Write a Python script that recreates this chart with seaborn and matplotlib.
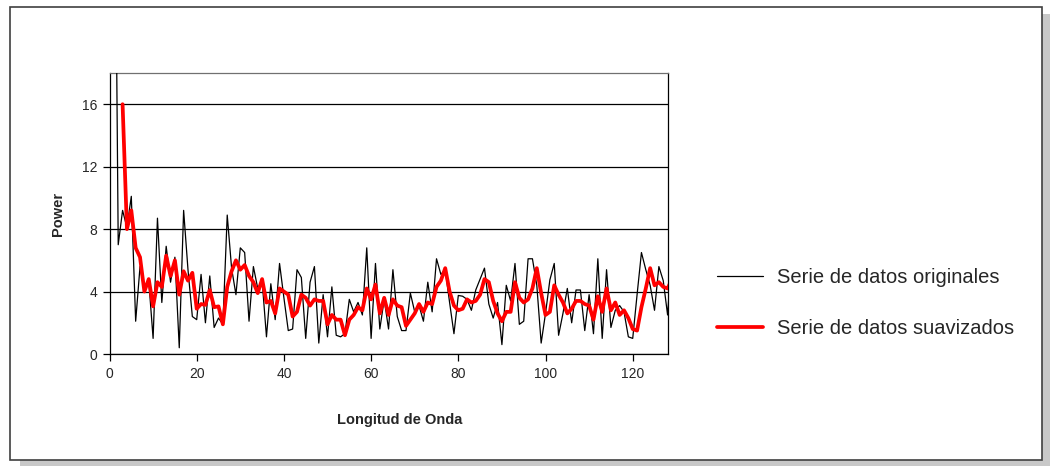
import pandas as pd
import seaborn as sns
import matplotlib
matplotlib.use("Agg")
import matplotlib.pyplot as plt
from matplotlib.patches import Rectangle

# Wavelength index and spectral power of the raw series
wavelength_orig = list(range(1, 130))
power_orig = [
    40.0, 7.0, 9.2, 8.1, 10.1, 2.1, 5.6, 4.0, 4.7, 1.0,
    8.7, 3.3, 6.9, 4.6, 6.2, 0.4, 9.2, 5.4, 2.4, 2.2,
    5.1, 2.0, 5.0, 1.7, 2.3, 1.9, 8.9, 5.5, 3.8, 6.8,
    6.5, 2.1, 5.6, 4.2, 4.7, 1.1, 4.5, 2.2, 5.8, 3.6,
    1.5, 1.6, 5.4, 4.9, 1.0, 4.6, 5.6, 0.7, 3.8, 1.1,
    4.3, 1.2, 1.1, 1.3, 3.5, 2.7, 3.3, 2.5, 6.8, 1.0,
    5.8, 1.6, 3.5, 1.6, 5.4, 2.4, 1.5, 1.5, 3.9, 2.7,
    3.1, 2.1, 4.6, 2.7, 6.1, 5.1, 5.4, 3.3, 1.3, 3.75,
    3.7, 3.5, 2.8, 4.1, 4.8, 5.5, 3.2, 2.3, 3.3, 0.6,
    4.4, 3.4, 5.8, 1.9, 2.1, 6.1, 6.1, 4.4, 0.7, 2.6,
    4.75, 5.8, 1.2, 2.6, 4.2, 2.0, 4.1, 4.1, 1.5, 3.8,
    1.3, 6.1, 1.0, 5.4, 1.7, 2.8, 3.1, 2.7, 1.1, 1.0,
    3.8, 6.5, 5.4, 4.4, 2.8, 5.6, 4.7, 2.5, 6.5,
]

# Smoothed series
wavelength_smooth = list(range(3, 130))
power_smooth = [
    16.0, 8.0, 9.2, 6.8, 6.2, 4.0, 4.8, 3.05,
    4.6, 4.3, 6.3, 5.0, 6.0, 3.8, 5.3, 4.7, 5.2, 2.9,
    3.2, 3.15, 4.1, 3.0, 3.05, 1.9, 4.3, 5.3, 6.0, 5.4,
    5.7, 5.0, 4.6, 3.9, 4.8, 3.3, 3.4, 2.6, 4.2, 4.0,
    3.8, 2.4, 2.7, 3.8, 3.6, 3.1, 3.5, 3.4, 3.4, 1.9,
    2.5, 2.2, 2.2, 1.2, 2.2, 2.5, 3.0, 2.8, 4.2, 3.5,
    4.45, 2.6, 3.6, 2.5, 3.5, 3.1, 3.0, 1.8, 2.2, 2.6,
    3.2, 2.7, 3.3, 3.2, 4.3, 4.7, 5.5, 4.0, 3.1, 2.8,
    2.9, 3.5, 3.3, 3.4, 3.8, 4.8, 4.6, 3.4, 2.6, 2.1,
    2.7, 2.7, 4.6, 3.6, 3.3, 3.5, 4.2, 5.5, 3.9, 2.5,
    2.7, 4.4, 3.8, 3.3, 2.6, 2.9, 3.4, 3.4, 3.2, 3.1,
    2.2, 3.7, 2.7, 4.2, 2.8, 3.3, 2.5, 2.8, 2.3, 1.6,
    1.5, 3.0, 4.2, 5.5, 4.4, 4.6, 4.3, 4.2, 4.8,
]

x_ticks = [0, 20, 40, 60, 80, 100, 120]
y_ticks = [0, 4, 8, 12, 16]

label_orig = "Serie de datos originales"
label_smooth = "Serie de datos suavizados"

sns.set_style("white")
plt.rcParams["font.family"] = ["Liberation Sans", "DejaVu Sans"]

W, H = 1051, 468
fig = plt.figure(figsize=(W / 100, H / 100), dpi=100)

# chart frame with a soft drop shadow
fig.patches.append(Rectangle((20 / W, 2 / H), 1030 / W, 452 / H,
                             transform=fig.transFigure, facecolor="#c8c8c8",
                             edgecolor="none", zorder=0))
fig.patches.append(Rectangle((10 / W, 8 / H), 1032 / W, 453 / H,
                             transform=fig.transFigure, facecolor="white",
                             edgecolor="#404040", lw=1.2, zorder=1))

ax = fig.add_axes([109.5 / W, 1 - 354 / H, 558.1 / W, 281 / H])
ax.set_zorder(2)

df_orig = pd.DataFrame({"x": wavelength_orig, "y": power_orig})
df_smooth = pd.DataFrame({"x": wavelength_smooth, "y": power_smooth})

sns.lineplot(data=df_orig, x="x", y="y", color="black", lw=0.9,
             ax=ax, label=label_orig, zorder=3)
sns.lineplot(data=df_smooth, x="x", y="y", color="#ff0000", lw=2.7,
             ax=ax, label=label_smooth, zorder=4)

ax.set_xlim(0, 128)
ax.set_ylim(0, 18)
ax.set_xticks(x_ticks)
ax.set_yticks(y_ticks)
ax.yaxis.grid(True, color="black", lw=0.9)
ax.xaxis.grid(False)
ax.set_axisbelow(True)

for side in ["left", "bottom", "right"]:
    ax.spines[side].set_color("black")
    ax.spines[side].set_linewidth(0.9)
ax.spines["top"].set_color("#707070")
ax.spines["top"].set_linewidth(0.9)

ax.tick_params(axis="both", direction="out", length=5, width=0.9,
               color="black", labelsize=10, pad=4,
               bottom=True, left=True)

ax.set_xlabel("Longitud de Onda", fontsize=10.5, fontweight="bold")
ax.set_ylabel("Power", fontsize=10.5, fontweight="bold")
ax.xaxis.set_label_coords(0.52, -0.21)
ax.yaxis.set_label_coords(-0.08, 0.5)

ax.legend_.remove()
handles, labels = ax.get_legend_handles_labels()
fig.legend(handles, labels, loc="center left",
           bbox_to_anchor=(717 / W, 1 - 303 / H), frameon=False,
           fontsize=14.5, handlelength=2.3, handletextpad=0.7,
           labelspacing=1.55, borderpad=0, borderaxespad=0)

fig.savefig("out.png", dpi=100)
